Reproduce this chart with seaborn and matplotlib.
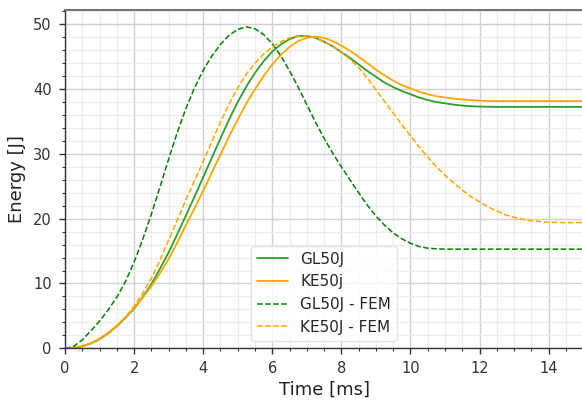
import numpy as np
import pandas as pd
import matplotlib
matplotlib.use("Agg")
import matplotlib.pyplot as plt
import seaborn as sns
from matplotlib.ticker import MultipleLocator

# ---- data ----
t_gl = [0, 0.25, 0.5, 0.75, 1, 1.25, 1.5, 1.75, 2, 2.25, 2.5, 2.75, 3, 3.25, 3.5, 3.75,
        4, 4.25, 4.5, 4.75, 5, 5.25, 5.5, 5.75, 6, 6.25, 6.5, 6.75, 7, 7.25, 7.5, 7.75,
        8, 8.25, 8.5, 8.75, 9, 9.25, 9.5, 9.75, 10, 10.25, 10.5, 10.75, 11, 11.25, 11.5,
        11.75, 12, 12.5, 13, 14, 15]
e_gl = [0, 0.08, 0.3, 0.75, 1.4, 2.3, 3.4, 4.7, 6.1, 7.9, 9.9, 12.3, 14.8, 17.6, 20.5, 23.4,
        26.4, 29.4, 32.4, 35.3, 38.0, 40.4, 42.5, 44.3, 45.8, 46.9, 47.7, 48.2, 48.2, 47.9,
        47.3, 46.6, 45.7, 44.8, 43.8, 42.8, 41.9, 41.0, 40.3, 39.7, 39.2, 38.7, 38.3, 38.0,
        37.8, 37.6, 37.45, 37.35, 37.3, 37.25, 37.25, 37.25, 37.25]

t_ke = [0, 0.25, 0.5, 0.75, 1, 1.25, 1.5, 1.75, 2, 2.25, 2.5, 2.75, 3, 3.25, 3.5, 3.75,
        4, 4.25, 4.5, 4.75, 5, 5.25, 5.5, 5.75, 6, 6.25, 6.5, 6.75, 7, 7.25, 7.5, 7.75,
        8, 8.25, 8.5, 8.75, 9, 9.25, 9.5, 9.75, 10, 10.25, 10.5, 10.75, 11, 11.25, 11.5,
        11.75, 12, 12.5, 13, 14, 15]
e_ke = [0, 0.1, 0.35, 0.8, 1.5, 2.4, 3.5, 4.8, 6.2, 7.8, 9.6, 11.6, 13.8, 16.3, 19.0, 21.6,
        24.3, 27.1, 29.9, 32.7, 35.3, 37.8, 40.0, 42.0, 43.8, 45.3, 46.5, 47.4, 47.9, 48.1,
        47.9, 47.4, 46.7, 45.9, 45.0, 44.0, 43.0, 42.1, 41.3, 40.6, 40.1, 39.6, 39.2, 38.9,
        38.7, 38.5, 38.4, 38.3, 38.2, 38.15, 38.15, 38.15, 38.15]

t_gl_fem = [0, 0.25, 0.5, 0.75, 1, 1.25, 1.5, 1.75, 2, 2.25, 2.5, 2.75, 3, 3.25, 3.5, 3.75,
            4, 4.25, 4.5, 4.75, 5, 5.25, 5.5, 5.75, 6, 6.25, 6.5, 6.75, 7, 7.25, 7.5, 7.75,
            8, 8.25, 8.5, 8.75, 9, 9.25, 9.5, 9.75, 10, 10.25, 10.5, 10.75, 11, 12, 13, 14, 15]
e_gl_fem = [0, 0.3, 1.3, 2.7, 4.2, 5.9, 7.9, 10.3, 13.3, 16.8, 20.7, 24.9, 29.2, 33.3, 37.0,
            40.2, 42.9, 45.1, 46.9, 48.3, 49.2, 49.6, 49.3, 48.4, 47.0, 45.1, 42.8, 40.3, 37.6,
            34.9, 32.4, 30.1, 28.0, 26.0, 24.0, 22.1, 20.4, 19.0, 17.8, 16.9, 16.2, 15.7, 15.45,
            15.35, 15.3, 15.3, 15.3, 15.3, 15.3]

t_ke_fem = [0, 0.25, 0.5, 0.75, 1, 1.25, 1.5, 1.75, 2, 2.25, 2.5, 2.75, 3, 3.25, 3.5, 3.75,
            4, 4.25, 4.5, 4.75, 5, 5.25, 5.5, 5.75, 6, 6.25, 6.5, 6.75, 7, 7.25, 7.5, 7.75,
            8, 8.25, 8.5, 8.75, 9, 9.25, 9.5, 9.75, 10, 10.25, 10.5, 10.75, 11, 11.25, 11.5,
            11.75, 12, 12.25, 12.5, 12.75, 13, 13.25, 13.5, 13.75, 14, 14.5, 15]
e_ke_fem = [0, 0.08, 0.3, 0.75, 1.4, 2.3, 3.4, 4.8, 6.5, 8.5, 10.8, 13.6, 16.7, 19.8, 22.9,
            25.9, 28.8, 31.9, 34.9, 37.7, 40.2, 42.3, 44.0, 45.4, 46.5, 47.3, 47.9, 48.2, 48.2,
            47.9, 47.3, 46.6, 45.7, 44.6, 43.3, 41.7, 39.9, 38.1, 36.3, 34.5, 32.8, 31.1, 29.5,
            28.0, 26.7, 25.5, 24.4, 23.4, 22.6, 21.8, 21.2, 20.6, 20.2, 19.9, 19.7, 19.55, 19.45,
            19.4, 19.4]

labels = ["GL50J", "KE50j", "GL50J - FEM", "KE50J - FEM"]
colors = ["#2ca02c", "orange", "green", "orange"]
styles = ["-", "-", "--", "--"]
widths = [1.3, 1.3, 1.1, 1.1]

series = [(t_gl, e_gl), (t_ke, e_ke), (t_gl_fem, e_gl_fem), (t_ke_fem, e_ke_fem)]

sns.set_style("white")
plt.rcParams["font.family"] = ["DejaVu Sans"]

fig = plt.figure(figsize=(5.82, 4.01), dpi=100)
ax = fig.add_axes([65 / 582, (401 - 348.3) / 401, (583.2 - 65) / 582, (348.3 - 10) / 401])

for (tt, ee), lab, col, ls, lw in zip(series, labels, colors, styles, widths):
    df = pd.DataFrame({"t": tt, "E": ee})
    sns.lineplot(data=df, x="t", y="E", ax=ax, color=col, linestyle=ls, linewidth=lw, label=lab)

ax.set_xlim(0, 15)
ax.set_ylim(0, 52.2)
ax.xaxis.set_major_locator(MultipleLocator(2))
ax.xaxis.set_minor_locator(MultipleLocator(0.5))
ax.yaxis.set_major_locator(MultipleLocator(10))
ax.yaxis.set_minor_locator(MultipleLocator(2))
ax.grid(which="major", color="#d0d0d0", linewidth=1.0)
ax.grid(which="minor", color="#ececec", linewidth=0.8)
ax.set_axisbelow(True)

ax.tick_params(which="major", direction="out", length=4.5, width=1, colors="#333333",
               labelsize=10.5, pad=5, left=True, bottom=True)
ax.tick_params(which="minor", direction="out", length=2.5, width=0.8, colors="#333333",
               left=True, bottom=True)
for s in ["left", "bottom"]:
    ax.spines[s].set_color("#333333")
    ax.spines[s].set_linewidth(1.0)
ax.spines["top"].set_color("#777777")
ax.spines["top"].set_linewidth(1.5)
ax.spines["right"].set_visible(False)

ax.set_xlabel("Time [ms]", fontsize=13, color="#222222", labelpad=3)
ax.set_ylabel("Energy [J]", fontsize=13, color="#222222", labelpad=5)

leg = ax.legend(loc="lower center", fontsize=11, frameon=True)
leg.get_frame().set_edgecolor("#dddddd")

fig.savefig("out.png", dpi=100)
